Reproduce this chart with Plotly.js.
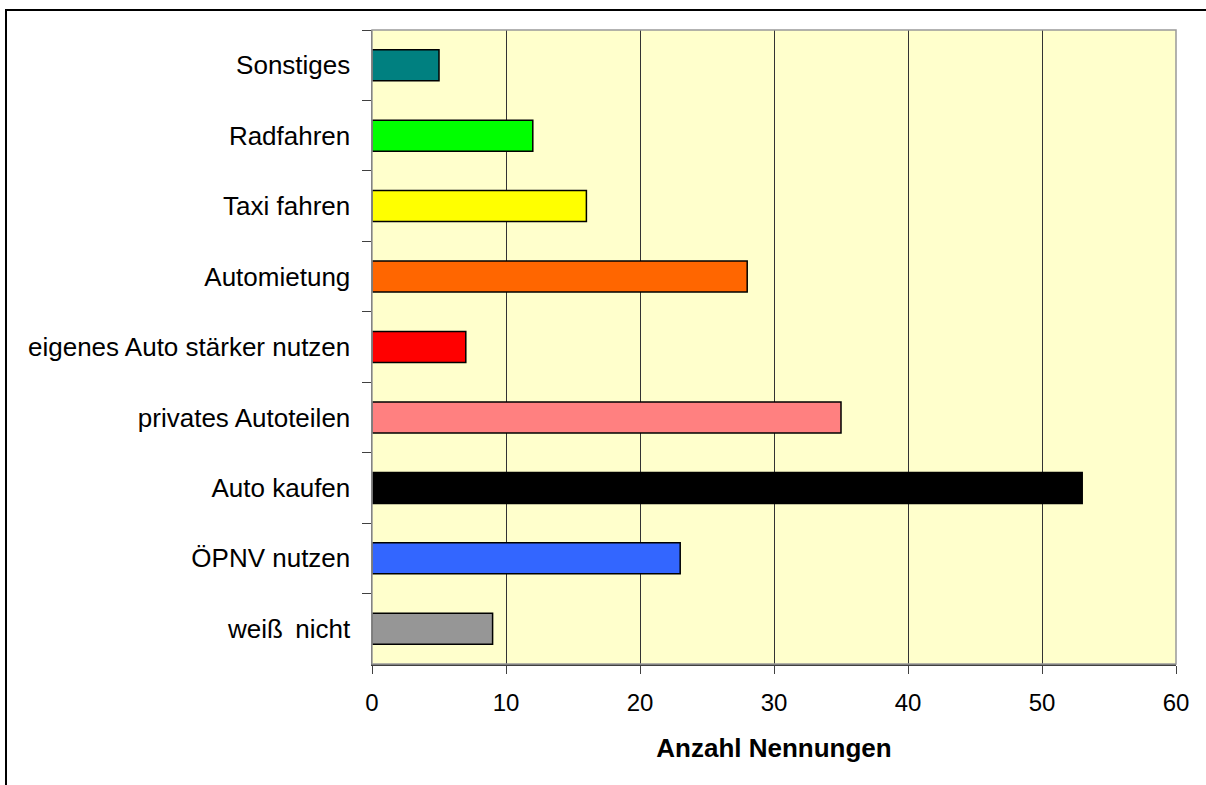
<!DOCTYPE html>
<html>
<head>
<meta charset="utf-8">
<script src="https://cdn.plot.ly/plotly-3.0.1.min.js"></script>
<style>html,body{margin:0;padding:0;background:#fff;}#chart{width:1206px;height:785px;}</style>
</head>
<body>
<div id="chart"></div>
<script>
const categories = ["Sonstiges", "Radfahren", "Taxi fahren", "Automietung", "eigenes Auto stärker nutzen", "privates Autoteilen", "Auto kaufen", "ÖPNV nutzen", "weiß\u2009 nicht"];
const values = [5, 12, 16, 28, 7, 35, 53, 23, 9];
const barColors = ["#008080", "#00FF00", "#FFFF00", "#FF6600", "#FF0000", "#FF8080", "#000000", "#3366FF", "#969696"];
const xTickVals = [0, 10, 20, 30, 40, 50, 60];
const xTitle = "Anzahl Nennungen";

const FONT = "Arial, 'Liberation Sans', sans-serif";
const L = 372, R = 1176, T = 30, B = 664, W = 1206, H = 785;
const pw = R - L, ph = B - T;
function px(x) { return (x - L) / pw; }
function py(y) { return (B - y) / ph; }

const trace = {
  type: "bar",
  orientation: "h",
  x: values,
  y: categories,
  marker: { color: barColors, line: { color: "#000000", width: 1.5 } },
  hoverinfo: "x+y"
};

const layout = {
  width: W, height: H,
  margin: { l: L, r: W - R, t: T, b: H - B, pad: 0 },
  paper_bgcolor: "#ffffff",
  plot_bgcolor: "#FFFFCC",
  showlegend: false,
  bargap: 0.56,
  font: { family: FONT, color: "#000000", size: 26 },
  xaxis: {
    range: [0, 60],
    tickvals: xTickVals,
    ticktext: xTickVals.map(String),
    showgrid: true, gridcolor: "#333333", gridwidth: 1,
    zeroline: false,
    showline: true, linecolor: "#404040", linewidth: 1.5,
    ticks: "outside", ticklen: 8, tickwidth: 1, tickcolor: "#404040",
    tickfont: { family: FONT, size: 24, color: "#000000" },
    ticklabelstandoff: 9,
    title: { text: "<b>" + xTitle + "</b>", font: { family: FONT, size: 26, color: "#000000" }, standoff: 23 },
    automargin: false,
    fixedrange: true
  },
  yaxis: {
    type: "category",
    autorange: "reversed",
    showgrid: false,
    zeroline: false,
    showline: true, linecolor: "#404040", linewidth: 1.5,
    ticks: "outside", ticklen: 9, tickwidth: 1, tickcolor: "#404040",
    tickson: "boundaries",
    tickfont: { family: FONT, size: 26, color: "#000000" },
    ticklabelstandoff: 15,
    automargin: false,
    fixedrange: true
  },
  shapes: [
    { type: "rect", xref: "paper", yref: "paper", x0: 0, x1: 1, y0: 0, y1: 1, line: { color: "#999999", width: 1.5 }, fillcolor: "rgba(0,0,0,0)", layer: "above" },
    { type: "rect", xref: "paper", yref: "paper", x0: px(6), x1: px(1230), y0: py(10), y1: py(820), line: { color: "#000000", width: 2 }, fillcolor: "rgba(0,0,0,0)", layer: "above" }
  ]
};

Plotly.newPlot("chart", [trace], layout, { displayModeBar: false, staticPlot: true });
</script>
</body>
</html>
